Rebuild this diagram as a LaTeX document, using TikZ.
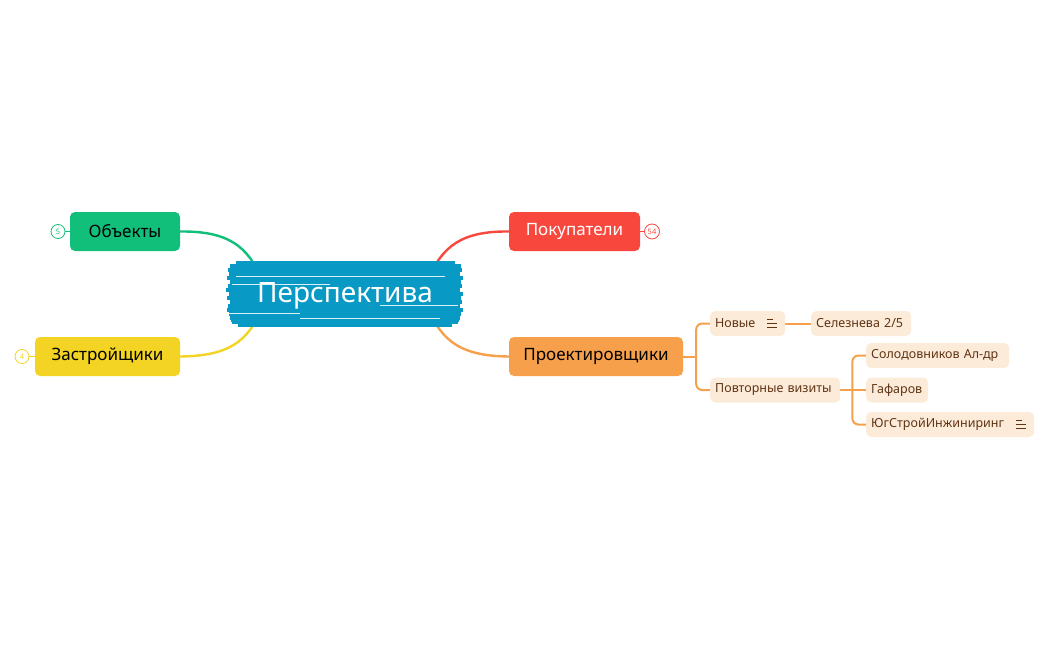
\documentclass[tikz,border=0pt]{standalone}
\usepackage{fontspec}
\setmainfont{Noto Sans}
\usetikzlibrary{backgrounds}
\definecolor{cblue}{RGB}{8,154,196}
\definecolor{cgreen}{RGB}{17,190,122}
\definecolor{cyellow}{RGB}{243,212,36}
\definecolor{cred}{RGB}{248,72,62}
\definecolor{corange}{RGB}{246,160,76}
\definecolor{cpeach}{RGB}{253,235,217}
\definecolor{cbrown}{RGB}{95,52,20}
\tikzset{
  mainbox/.style={rounded corners=5pt, minimum height=39pt, inner sep=0pt, font=\fontsize{17}{17}\selectfont},
  subbox/.style={rounded corners=5pt, fill=cpeach, minimum height=25pt, inner xsep=5pt, inner ysep=0pt, text=cbrown, font=\fontsize{12.5}{13}\selectfont, align=left},
  badge/.style={circle, draw=#1, fill=white, line width=0.8pt, text=#1, inner sep=0pt, minimum size=14pt, font=\fontsize{7.5}{8}\selectfont},
  mainline/.style={line width=2.4pt, draw=#1},
  subline/.style={line width=2pt, draw=corange, rounded corners=6pt},
  noteicon/.style={line width=1pt, draw=cbrown}
}
\begin{document}
\begin{tikzpicture}[x=1pt,y=-1pt]
\useasboundingbox (0,0) rectangle (1050,650);
% central
\node[text=white, font=\fontsize{28}{28}\selectfont, minimum width=236pt, minimum height=64pt, inner sep=0pt] (center) at (345,296) {Перспектива};
% main nodes
\node[mainbox, fill=cgreen, minimum width=110pt] (obj) at (125,231.5) {Объекты};
\node[mainbox, fill=cyellow, minimum width=145pt] (zas) at (107.5,356.5) {Застройщики};
\node[mainbox, fill=cred, text=white, minimum width=131pt] (pok) at (574.5,231.5) {Покупатели};
\node[mainbox, fill=corange, minimum width=174pt] (proj) at (596,356.5) {Проектировщики};
% badges
\node[badge=cgreen] (b1) at (58,231.5) {5};
\node[badge=cyellow] (b2) at (22,356.5) {4};
\node[badge=cred, minimum size=15pt] (b3) at (652,231.5) {54};
% sub nodes
\node[subbox, anchor=west, text width=65pt] (nov) at (710,323.5) {Новые};
\node[subbox, anchor=west, text width=90pt] (sel) at (811,323.5) {Селезнева 2/5};
\node[subbox, anchor=west, text width=120pt] (pov) at (710,390) {Повторные визиты};
\node[subbox, anchor=west, text width=133pt] (sol) at (866,355.5) {Солодовников Ал-др};
\node[subbox, anchor=west, text width=52pt] (gaf) at (866,390) {Гафаров};
\node[subbox, anchor=west, text width=158pt] (yug) at (866,424.5) {ЮгСтройИнжиниринг};
% note icons
\draw[noteicon] ([xshift=-18pt,yshift=-4pt]nov.east) -- ++(10,0);
\draw[noteicon] ([xshift=-18pt]nov.east) -- ++(10,0);
\draw[noteicon] ([xshift=-18pt,yshift=4pt]nov.east) -- ++(6,0);
\draw[noteicon] ([xshift=-18pt,yshift=-4pt]yug.east) -- ++(10,0);
\draw[noteicon] ([xshift=-18pt]yug.east) -- ++(10,0);
\draw[noteicon] ([xshift=-18pt,yshift=4pt]yug.east) -- ++(6,0);
\coordinate (j1) at ([xshift=13pt]proj.east);
\coordinate (j2) at ([xshift=12pt]pov.east);
\begin{scope}[on background layer]
% connectors
\draw[mainline=cgreen] (obj.east) .. controls (228,231) and (248,246) .. (262,280);
\draw[mainline=cyellow] (zas.east) .. controls (228,356) and (248,342) .. (262,308);
\draw[mainline=cred] (pok.west) .. controls (462,231) and (442,246) .. (428,280);
\draw[mainline=corange] (proj.west) .. controls (462,356) and (442,342) .. (428,308);
\draw[line width=0.8pt, cgreen] (b1) -- (obj.west);
\draw[line width=0.8pt, cyellow] (b2) -- (zas.west);
\draw[line width=0.8pt, cred] (b3) -- (pok.east);
\draw[subline] (proj.east) -- (j1);
\draw[subline] (nov.west) -| (j1) |- (pov.west);
\draw[subline] (nov.east) -- (sel.west);
\draw[subline] (pov.east) -- (j2);
\draw[subline] (sol.west) -| (j2) |- (yug.west);
\draw[subline] (j2) -- (gaf.west);
% scribble background
\fill[cblue] (231,266) rectangle (459,322);
\foreach \y/\a/\b in {263/236/455, 266/230/461, 270/228/462, 274/229/460, 278/227/463, 282/230/461, 286/228/462, 290/226/460, 294/229/463, 298/227/461, 302/230/462, 306/228/460, 310/227/463, 314/229/461, 318/230/460, 322/232/458, 325/238/452}
  \draw[cblue, line width=4pt] (\a,\y) -- (\b,\y);
\foreach \y/\a/\b in {276/236/445, 284/232/330, 305/380/458, 313/229/300, 318/300/440}
  \draw[white, line width=0.5pt, opacity=0.85] (\a,\y) -- (\b,\y);
\end{scope}
\end{tikzpicture}
\end{document}
